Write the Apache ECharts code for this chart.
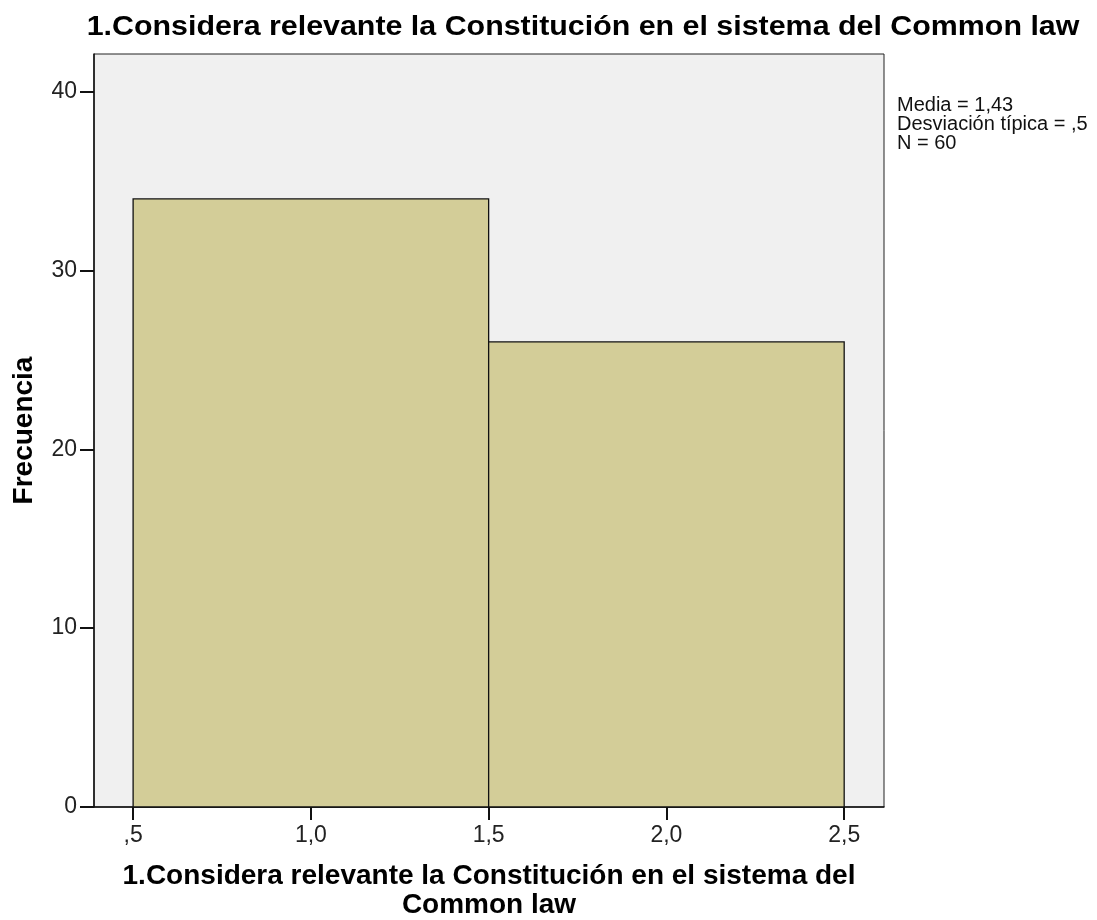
<!DOCTYPE html>
<html>
<head>
<meta charset="utf-8">
<script src="https://cdn.jsdelivr.net/npm/echarts@6/dist/echarts.min.js"></script>
<style>
  html, body { margin: 0; padding: 0; background: #fff; }
  #chart { width: 1097px; height: 920px; }
</style>
</head>
<body>
<div id="chart"></div>
<script>
// histogram bins: [start, end, frequency]
const binStarts = [0.5, 1.5]
const binEnds = [1.5, 2.5]
const frequencies = [34, 26]

const xTicks = [0.5, 1.0, 1.5, 2.0, 2.5]
const xTickLabels = [',5', '1,0', '1,5', '2,0', '2,5']
const yTicks = [0, 10, 20, 30, 40]

const statsLines = ['Media = 1,43', 'Desviación típica = ,5', 'N = 60']

const titleText = '1.Considera relevante la Constitución en el sistema del Common law'
const xName = '1.Considera relevante la Constitución en el sistema del\nCommon law'
const yName = 'Frecuencia'

const chart = echarts.init(document.getElementById('chart'))

const histData = binStarts.map((s, i) => [s, binEnds[i], frequencies[i]])

const tickFont = '"Liberation Sans Narrow", "Liberation Sans", Arial, sans-serif'

const option = {
    animation: false,
    textStyle: { fontFamily: 'Liberation Sans, Arial, sans-serif' },
    graphic: [{
        type: 'text',
        x: 583,
        y: 13,
        scaleX: 1.085,
        style: {
            text: titleText,
            align: 'center',
            verticalAlign: 'top',
            font: 'bold 28px "Liberation Sans", Arial, sans-serif',
            fill: '#000'
        }
    }, {
        type: 'text',
        x: 897,
        y: 96,
        style: {
            text: statsLines.join('\n'),
            font: '20px "Liberation Sans", Arial, sans-serif',
            lineHeight: 19,
            fill: '#111'
        }
    }],
    grid: {
        left: 94,
        top: 54,
        width: 790,
        height: 753,
        outerBoundsMode: 'none',
        containLabel: false,
        show: true,
        backgroundColor: '#f0f0f0',
        borderColor: '#222',
        borderWidth: 1
    },
    xAxis: {
        type: 'value',
        min: 0.39,
        max: 2.612,
        name: xName,
        nameLocation: 'middle',
        nameGap: 55,
        nameTextStyle: { fontSize: 28, fontWeight: 'bold', color: '#000', lineHeight: 29 },
        axisLine: { show: true, lineStyle: { color: '#111', width: 1.5 } },
        axisTick: { show: true, length: 13, customValues: xTicks, lineStyle: { color: '#111', width: 2 } },
        axisLabel: {
            customValues: xTicks,
            fontSize: 23,
            fontFamily: tickFont,
            color: '#222',
            margin: 17,
            formatter: v => {
                const idx = xTicks.findIndex(t => Math.abs(t - v) < 1e-6)
                return idx >= 0 ? xTickLabels[idx] : ''
            }
        },
        splitLine: { show: false }
    },
    yAxis: {
        type: 'value',
        min: 0,
        max: 42.1,
        name: yName,
        nameLocation: 'middle',
        nameGap: 56,
        nameRotate: 90,
        nameTextStyle: { fontSize: 28, fontWeight: 'bold', color: '#000' },
        axisLine: { show: true, lineStyle: { color: '#111', width: 1.5 } },
        axisTick: { show: true, length: 14, customValues: yTicks, lineStyle: { color: '#111', width: 2 } },
        axisLabel: { customValues: yTicks, fontSize: 23, fontFamily: tickFont, color: '#222', margin: 17 },
        splitLine: { show: false }
    },
    series: [{
        type: 'custom',
        renderItem: function (params, api) {
            const start = api.coord([api.value(0), api.value(2)])
            const end = api.coord([api.value(1), 0])
            return {
                type: 'rect',
                shape: {
                    x: start[0],
                    y: start[1],
                    width: end[0] - start[0],
                    height: end[1] - start[1]
                },
                style: { fill: '#d3cd98', stroke: '#111', lineWidth: 1.3 }
            }
        },
        encode: { x: [0, 1], y: 2 },
        data: histData
    }]
}

chart.setOption(option)
</script>
</body>
</html>
